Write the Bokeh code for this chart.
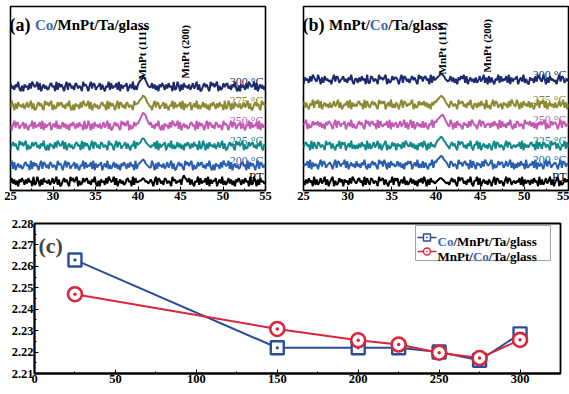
import numpy as np
from bokeh.plotting import figure
from bokeh.models import Label, FixedTicker, Range1d, PrintfTickFormatter
from bokeh.layouts import column, row
from bokeh.embed import file_html
from bokeh.resources import INLINE

# ---------------- data ----------------
two_theta_min, two_theta_max = 25, 55
xrd_ticks = [25, 30, 35, 40, 45, 50, 55]
xrd_minor = [27.5, 32.5, 37.5, 42.5, 47.5, 52.5]
temp_labels = ["RT", "200 °C", "225 °C", "250 °C", "275 °C", "300 °C"]
trace_colors = ["#000000", "#2a5fb0", "#13898b", "#c25ab4", "#8c8a33", "#1b2a6b"]

# stacking offsets of each XRD trace (intensity, arb. units)
offsets_a = [9, 25, 45, 65, 85, 104]
offsets_b = [9, 26, 45, 66, 86, 111]

# XRD intensity (one hex digit per 0.15 deg step, 25..55 deg)
xrd_a_RT = ("3625140536" "4152634071" "2740516342" "5136247150" "1463520746" "3570412635" "6241537204"
            "0534162753" "4716035241" "2563407163" "3445653423" "5304716524" "1652430745" "2435168653"
            "6152043716" "2436170524" "4603527141" "3625140536" "4152634071" "2740516342" "3")
xrd_a_200 = ("4716035241" "2563407163" "5304716524" "1652430745" "3047265134" "6152043716" "2436170524"
             "4603527141" "3625140536" "4152634071" "4567875432" "2740516342" "5136247150" "1463520746"
             "3570412635" "6241537204" "0534162753" "4716035241" "2563407163" "5304716524" "2")
xrd_a_225 = ("1463520746" "3570412635" "6241537204" "0534162753" "4716035241" "2563407163" "5304716524"
             "1652430745" "3047265134" "6152043716" "4568986543" "2436170524" "4603527141" "3625140536"
             "4152634071" "2740516342" "5136247150" "1463520746" "3570412635" "6241537204" "4")
xrd_a_250 = ("3047265134" "6152043716" "2436170524" "4603527141" "3625140536" "4152634071" "2740516342"
             "5136247150" "1463520746" "3570412635" "579bdcb864" "6241537204" "0534162753" "4716035241"
             "2563407163" "5304716524" "1652430745" "3047265134" "6152043716" "2436170524" "3")
xrd_a_275 = ("2740516342" "5136247150" "1463520746" "3570412635" "6241537204" "0534162753" "4716035241"
             "2563407163" "5304716524" "1652430745" "5789ba9653" "3047265134" "6152043716" "2436170524"
             "4603527141" "3625140536" "4152634071" "2740516342" "5136247150" "1463520746" "2")
xrd_a_300 = ("6241537204" "0534162753" "4716035241" "2563407163" "5304716524" "1652430745" "3047265134"
             "6152043716" "2436170524" "4603527141" "5789ba8643" "3625140536" "4152634071" "2740516342"
             "5136247150" "1463520746" "3570412635" "6241537204" "0534162753" "4716035241" "4")

xrd_b_RT = ("4152634071" "5136247150" "3570412635" "0534162753" "2563407163" "1652430745" "6152043716"
            "4603527141" "3625140536" "2740516342" "3456654323" "1463520746" "6241537204" "4716035241"
            "5304716524" "3047265134" "2436170524" "4152634071" "5136247150" "3570412635" "3")
xrd_b_200 = ("2436170524" "3047265134" "5304716524" "4716035241" "6241537204" "1463520746" "2740516342"
             "3625140536" "4603527141" "6152043716" "5789a97653" "1652430745" "2563407163" "0534162753"
             "3570412635" "5136247150" "4152634071" "2436170524" "3047265134" "5304716524" "4")
xrd_b_225 = ("2563407163" "1652430745" "6152043716" "4603527141" "4152634071" "5136247150" "3570412635"
             "0534162753" "3625140536" "2740516342" "5789a97643" "1463520746" "6241537204" "4716035241"
             "5304716524" "3047265134" "2436170524" "2563407163" "1652430745" "6152043716" "2")
xrd_b_250 = ("3570412635" "3625140536" "5304716524" "4603527141" "1463520746" "2563407163" "2436170524"
             "5136247150" "4716035241" "6152043716" "5789ab9753" "2740516342" "0534162753" "3047265134"
             "4152634071" "6241537204" "1652430745" "3625140536" "3570412635" "5304716524" "3")
xrd_b_275 = ("6152043716" "4716035241" "5136247150" "2436170524" "2563407163" "1463520746" "4603527141"
             "5304716524" "3570412635" "3625140536" "5789a98643" "1652430745" "6241537204" "4152634071"
             "3047265134" "0534162753" "2740516342" "6152043716" "4716035241" "5136247150" "4")
xrd_b_300 = ("0534162753" "2740516342" "3047265134" "6241537204" "4152634071" "1652430745" "3570412635"
             "5304716524" "1463520746" "2563407163" "4567876432" "3625140536" "4716035241" "5136247150"
             "6152043716" "2436170524" "4603527141" "0534162753" "2740516342" "3047265134" "2")

series_a = [xrd_a_RT, xrd_a_200, xrd_a_225, xrd_a_250, xrd_a_275, xrd_a_300]
series_b = [xrd_b_RT, xrd_b_200, xrd_b_225, xrd_b_250, xrd_b_275, xrd_b_300]

# panel (c): d-spacing vs annealing temperature
temperature = [25, 150, 200, 225, 250, 275, 300]
d_co_mnpt = [2.263, 2.222, 2.222, 2.222, 2.220, 2.2162, 2.2285]
d_mnpt_co = [2.247, 2.2308, 2.2255, 2.2235, 2.2197, 2.2172, 2.2257]
c_xticks = [0, 50, 100, 150, 200, 250, 300]
c_yticks = [2.21, 2.22, 2.23, 2.24, 2.25, 2.26, 2.27, 2.28]

FONT = "Liberation Serif"
BLUE_TXT = "#3b6cb7"
C_BLUE = "#2b4d98"
C_RED = "#d8263b"

# Times/Liberation Serif Bold advance widths (per 1000 em)
W = {'(': 333, ')': 333, 'a': 500, 'b': 556, 'c': 444, ' ': 250, 'C': 722, 'o': 500,
     '/': 278, 'M': 944, 'n': 556, 'P': 611, 't': 333, 'T': 667, 'g': 500, 'l': 278, 's': 389}


def tw(s, size):
    return sum(W.get(ch, 500) for ch in s) * size / 1000.0


def rich(p, x, y, parts, x_off=0):
    off = x_off
    for text, size, color in parts:
        p.add_layout(Label(x=x, y=y, x_offset=off, text=text, text_font_size=f"{size}px",
                           text_color=color, text_font=FONT, text_font_style="bold",
                           text_baseline="alphabetic", text_align="left"))
        off += tw(text, size)


def style_axis(ax, lw):
    ax.major_tick_in = 4
    ax.major_tick_out = 0
    ax.minor_tick_in = 2
    ax.minor_tick_out = 0
    ax.axis_line_width = lw
    ax.axis_line_color = "black"
    ax.major_tick_line_color = "black"
    ax.minor_tick_line_color = "black"
    ax.major_label_text_font = FONT
    ax.major_label_text_font_style = "bold"
    ax.major_label_text_color = "black"
    ax.major_label_text_font_size = "12.5px"
    ax.major_label_standoff = 1


def xrd_panel(series, offsets, fw, bl, br, title_parts, peaks):
    p = figure(frame_width=fw, frame_height=184, output_backend="svg", toolbar_location=None,
               x_range=Range1d(two_theta_min, two_theta_max), y_range=Range1d(0, 184),
               y_axis_location=None, min_border_left=bl, min_border_right=br,
               min_border_top=6, min_border_bottom=0)
    p.grid.visible = False
    p.outline_line_color = "black"
    p.outline_line_width = 1.6
    ax = p.xaxis[0]
    ax.ticker = FixedTicker(ticks=xrd_ticks, minor_ticks=xrd_minor)
    style_axis(ax, 1.6)
    for s, off, col in zip(series, offsets, trace_colors):
        vals = np.array([int(c, 16) for c in s], dtype=float)
        xs = np.linspace(two_theta_min, two_theta_max, len(vals))
        ys = off + (vals - 3.5) * 1.35
        p.line(xs, ys, line_color=col, line_width=2.0)
    for off, col, lab in zip(offsets, trace_colors, temp_labels):
        p.add_layout(Label(x=two_theta_max, y=off + 5, x_offset=-2, text=lab,
                           text_align="right", text_baseline="middle", text_color=col,
                           text_font=FONT, text_font_size="12px"))
    for px, py, txt in peaks:
        p.add_layout(Label(x=px, y=py, text=txt, angle=np.pi / 2, text_align="left",
                           text_baseline="middle", text_font=FONT, text_font_style="bold",
                           text_font_size="11px", text_color="black"))
    rich(p, two_theta_min, 166, title_parts, x_off=-1)
    return p


pa = xrd_panel(series_a, offsets_a, 255, 10, 25,
               [("(a) ", 18, "black"), ("Co", 15, BLUE_TXT), ("/MnPt/Ta/glass", 15, "black")],
               [(40.5, 111, "MnPt (111)"), (45.5, 112, "MnPt (200)")])
pb = xrd_panel(series_b, offsets_b, 265, 13, 1,
               [("(b) ", 18, "black"), ("MnPt/", 15, "black"), ("Co", 15, BLUE_TXT), ("/Ta/glass", 15, "black")],
               [(40.7, 116, "MnPt (111)"), (45.8, 118, "MnPt (200)")])

# ---------------- panel (c) ----------------
pc = figure(frame_width=526, frame_height=150, output_backend="svg", toolbar_location=None,
            x_range=Range1d(0, 325), y_range=Range1d(2.21, 2.28),
            min_border_left=34, min_border_right=9, min_border_top=21, min_border_bottom=0)
pc.grid.visible = False
pc.outline_line_color = "black"
pc.outline_line_width = 1.8
pc.xaxis.ticker = FixedTicker(ticks=c_xticks, minor_ticks=[25, 75, 125, 175, 225, 275])
pc.yaxis.ticker = FixedTicker(ticks=c_yticks, minor_ticks=[2.215, 2.225, 2.235, 2.245, 2.255, 2.265, 2.275])
pc.yaxis.formatter = PrintfTickFormatter(format="%.2f")
style_axis(pc.xaxis[0], 1.8)
style_axis(pc.yaxis[0], 1.8)

pc.line(temperature, d_co_mnpt, line_color=C_BLUE, line_width=2)
pc.scatter(temperature, d_co_mnpt, marker="square_dot", size=13, line_color=C_BLUE,
           fill_color="white", line_width=2.4)
pc.line(temperature, d_mnpt_co, line_color=C_RED, line_width=2)
pc.scatter(temperature, d_mnpt_co, marker="circle_dot", size=14, line_color=C_RED,
           fill_color="white", line_width=2.6)

pc.add_layout(Label(x=0, y=2.2697, x_offset=4, text="(c)", text_font=FONT,
                    text_font_style="bold", text_font_size="22px", text_baseline="alphabetic"))

# manual legend (multi-coloured labels)
pc.quad(left=[235.4], right=[318.8], bottom=[2.2627], top=[2.2791], fill_color="white",
        line_color="#a0a0a0", line_width=1)
leg_rows = [(2.27347, 2.27137, C_BLUE, "square_dot",
             [("Co", 13, BLUE_TXT), ("/MnPt/Ta/glass", 13, "black")]),
            (2.26693, 2.26483, C_RED, "circle_dot",
             [("MnPt/", 13, "black"), ("Co", 13, BLUE_TXT), ("/Ta/glass", 13, "black")])]
for ly, lb, col, mk, parts in leg_rows:
    pc.line([236.6, 248.4], [ly, ly], line_color=col, line_width=1.6)
    pc.scatter([242.5], [ly], marker=mk, size=7, line_color=col, fill_color="white", line_width=1.4)
    rich(pc, 249.0, lb, parts, x_off=0)

layout = column(row(pa, pb, spacing=0), pc, spacing=0)
open("out.html", "w").write(file_html(layout, INLINE))
